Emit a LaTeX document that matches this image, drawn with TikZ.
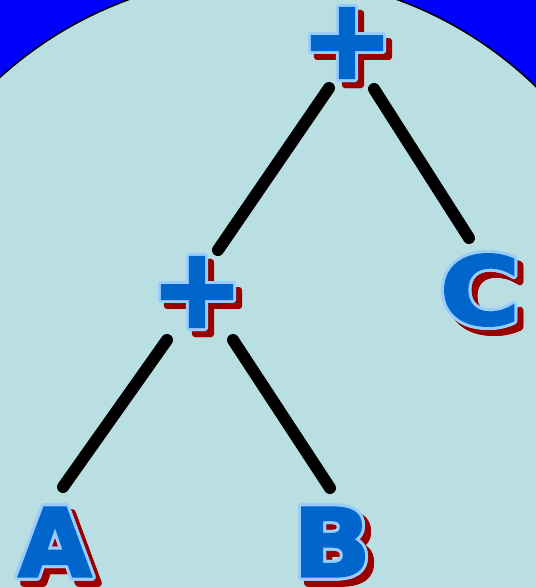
\documentclass[tikz,border=0pt]{standalone}
\usepackage{fontspec}
\newfontfamily\glyphfont{DejaVu Sans}[FakeBold=3]
\usetikzlibrary{calc}
\definecolor{bgblue}{HTML}{0000FF}
\definecolor{discfill}{HTML}{B9DFE3}
\definecolor{glyphfill}{HTML}{0066CC}
\definecolor{glyphedge}{HTML}{99CCFF}
\definecolor{glyphshadow}{HTML}{990000}
\tikzset{
  letterglyph/.style={inner sep=0pt, font=\glyphfont\bfseries\fontsize{94}{94}\selectfont},
  opglyph/.style={inner sep=0pt, font=\glyphfont\bfseries\fontsize{110}{110}\selectfont},
  link/.style={line width=12pt, line cap=round, black},
}
\newcommand\fancynode[4]{%
  \foreach \a in {0,20,...,340}{\node[#1, text=glyphshadow] at ($(#3)+(\a:3)+(6,6)$) {#4};}
  \foreach \a in {0,20,...,340}{\node[#1, text=glyphedge] at ($(#3)+(\a:3)$) {#4};}
  \node[#1, text=glyphfill] (#2) at (#3) {#4};
}
\begin{document}
\begin{tikzpicture}[x=1pt,y=-1pt]
\useasboundingbox (0,0) rectangle (536,587);
\fill[bgblue] (0,0) rectangle (536,587);
\begin{scope}
  \clip (0,0) rectangle (536,587);
  \draw[fill=discfill, line width=1.5pt] (263,368) circle[radius=392];
\end{scope}
\fancynode{opglyph}{top}{347,43}{+}
\fancynode{opglyph}{mid}{197,292}{+}
\fancynode{letterglyph}{c}{480,290}{\scalebox{1.15}[1]{C}}
\fancynode{letterglyph}{a}{55,542}{A}
\fancynode{letterglyph}{b}{332,542}{\scalebox{1.08}[1]{B}}
\draw[link] ($(top)+(-18,45)$) -- ($(mid)+(21,-42)$);
\draw[link] ($(top)+(27,46)$) -- ($(c)+(-11,-52)$);
\draw[link] ($(mid)+(-30,48)$) -- ($(a)+(8,-55)$);
\draw[link] ($(mid)+(36,48)$) -- ($(b)+(-2,-54)$);
\end{tikzpicture}
\end{document}
